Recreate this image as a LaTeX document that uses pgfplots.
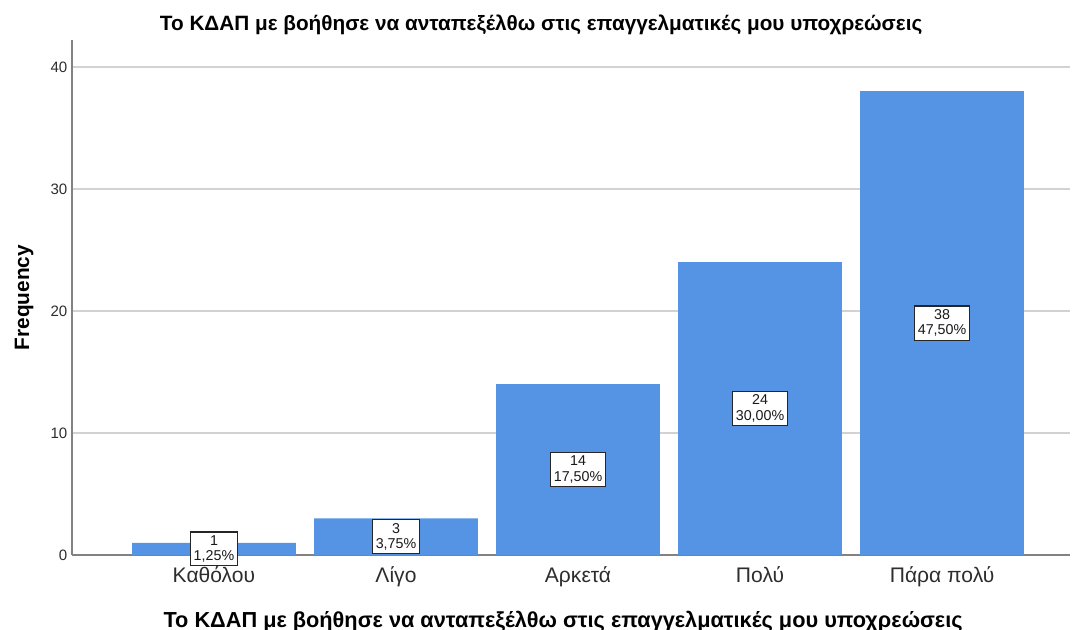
\documentclass[border=0pt]{standalone}
\usepackage{pgfplots}
\pgfplotsset{compat=1.18}
\usepackage{fontspec}
\setmainfont{Liberation Sans}

\definecolor{barblue}{RGB}{85,148,229}
\definecolor{gridgray}{RGB}{210,210,210}
\definecolor{axisgray}{RGB}{130,130,130}
\definecolor{textgray}{RGB}{45,45,45}

\begin{document}
\begin{tikzpicture}
% page = 1073 x 630 px at 0.75pt per px
\path[use as bounding box] (0,0) rectangle (804.75pt,472.5pt);
\begin{axis}[
    at={(54pt,56.25pt)}, anchor=south west,
    scale only axis,
    width=748.5pt, height=386.25pt,
    xmin=-0.78, xmax=4.703,
    ymin=0, ymax=42.2,
    axis x line=bottom, axis y line=left,
    axis line style={-, draw=axisgray, line width=1pt},
    xtick={0,1,2,3,4},
    xticklabels={Καθόλου, Λίγο, Αρκετά, Πολύ, Πάρα πολύ},
    ytick={0,10,20,30,40},
    major tick length=0pt,
    ymajorgrids,
    grid style={draw=gridgray, line width=1pt},
    /pgf/number format/assume math mode=true,
    yticklabel style={font=\fontsize{11.3}{13}\selectfont, text=textgray},
    xticklabel style={font=\fontsize{15.8}{17}\selectfont, text=textgray, yshift=-5pt},
    title={Το ΚΔΑΠ με βοήθησε να ανταπεξέλθω στις επαγγελματικές μου υποχρεώσεις},
    title style={at={(axis description cs:0.47,1.0155)}, anchor=base, yshift=-4.5pt,
        font=\bfseries\fontsize{15.55}{17}\selectfont},
    xlabel={Το ΚΔΑΠ με βοήθησε να ανταπεξέλθω στις επαγγελματικές μου υποχρεώσεις},
    xlabel style={at={(axis description cs:0.492,-0.14)}, anchor=base,
        font=\bfseries\fontsize{16.3}{18}\selectfont},
    ylabel={Frequency},
    ylabel style={at={(axis description cs:-0.048,0.5)}, anchor=center,
        font=\bfseries\fontsize{15.6}{18}\selectfont},
]

% frequencies
\addplot[ybar, bar width=0.9, fill=barblue, draw=none] coordinates {
    (0,1) (1,3) (2,14) (3,24) (4,38)
};

% count / percent boxes at half bar height
\addplot[draw=none, nodes near coords, point meta=explicit symbolic,
    every node near coord/.append style={anchor=center, align=center,
        draw=black!85, line width=0.9pt, fill=white, text=black!90,
        inner xsep=2.4pt, inner ysep=2.6pt,
        font=\fontsize{10.7}{11.5}\selectfont}]
    coordinates {
    (0,0.5) [1\\1,25\%]
    (1,1.5) [3\\3,75\%]
    (2,7) [14\\17,50\%]
    (3,12) [24\\30,00\%]
    (4,19) [38\\47,50\%]
};

\end{axis}
\end{tikzpicture}
\end{document}
